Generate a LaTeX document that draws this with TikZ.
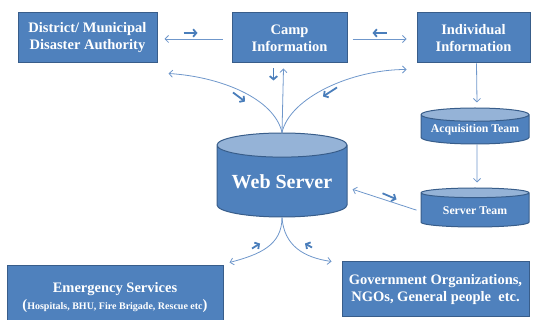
\documentclass[tikz,border=0pt]{standalone}
\usepackage{fontspec}
\setmainfont{Liberation Serif}
\usetikzlibrary{arrows.meta,calc,shapes.geometric}

\definecolor{boxblue}{HTML}{4F81BD}
\definecolor{boxedge}{HTML}{385D8A}
\definecolor{lidblue}{HTML}{95B3D7}
\definecolor{linkblue}{HTML}{6F97CB}
\definecolor{cueblue}{HTML}{4A7EBB}

\tikzset{
  infobox/.style={draw=boxedge, line width=1pt, fill=boxblue, text=white,
    font=\fontsize{14.5}{17}\selectfont\bfseries, align=center, inner sep=0pt},
  store/.style={cylinder, shape border rotate=90, draw=boxedge, line width=1pt,
    cylinder uses custom fill, cylinder body fill=boxblue, cylinder end fill=lidblue,
    text=white, inner sep=0pt, anchor=shape center},
  link/.style={draw=linkblue, line width=0.8pt, -{Straight Barb[length=3.5pt,width=7pt]}},
  cue/.style={draw=cueblue, line width=1.8pt, -{Straight Barb[length=3.2pt,width=7.5pt]}},
}

\begin{document}
\begin{tikzpicture}[x=1pt,y=-1pt]
\useasboundingbox (0,0) rectangle (533,320);
% top row
\node[infobox, minimum width=139pt, minimum height=50pt] (district) at (87.5,38) {District/ Municipal\\Disaster Authority};
\node[infobox, minimum width=115pt, minimum height=50pt] (camp) at (289.5,38) {Camp\\Information};
\node[infobox, minimum width=113pt, minimum height=50pt] (indiv) at (473.5,38) {Individual\\Information};
% servers
\node[store, minimum width=130pt, minimum height=84pt, aspect=0.24,
  font=\fontsize{20}{24}\selectfont\bfseries] (web) at (282,175) {Web Server};
\node[store, minimum width=108pt, minimum height=36pt, aspect=0.15,
  font=\fontsize{11.8}{14}\selectfont\bfseries] (acq) at (475,126) {Acquisition Team};
\node[store, minimum width=108pt, minimum height=39pt, aspect=0.15,
  font=\fontsize{11.8}{14}\selectfont\bfseries] (srvteam) at (475,207.5) {Server Team};
% bottom row
\node[infobox, minimum width=216pt, minimum height=64pt] (emerg) at (115,298)
  {Emergency Services\\(\fontsize{10}{12}\selectfont Hospitals, BHU, Fire Brigade, Rescue etc\fontsize{14.5}{17}\selectfont)};
\node[infobox, minimum width=187pt, minimum height=55pt] (gov) at (435.5,289.5)
  {Government Organizations,\\NGOs, General people\ \ etc.};

% district <-> camp
\draw[link] ($(camp.west)+(-9,1)$) -- ($(district.east)+(7,1)$);
\draw[cue] ($(district.east)+(26,-5)$) -- ($(district.east)+(40,-5)$);
% camp <-> individual
\draw[link] ($(camp.east)+(5,1)$) -- ($(indiv.west)+(-10,1)$);
\draw[cue] ($(indiv.west)+(-30,-5)$) -- ($(indiv.west)+(-44,-5)$);
% camp <-> web server
\draw[link] (web.north) -- ($(camp.south)+(-6,5)$);
\draw[cue] ($(camp.south)+(-16,5)$) -- ($(camp.south)+(-16,17)$);
% web server <-> district, individual
\draw[link] (web.north) .. controls +(-8,-35) and +(50,3) .. ($(district.south east)+(11,10)$);
\draw[cue] ($(web.north)+(-49,-40)$) -- ($(web.north)+(-37,-31)$);
\draw[link] (web.north) .. controls +(8,-35) and +(-55,0) .. ($(indiv.south west)+(-10,6)$);
\draw[cue] ($(web.north)+(55,-45)$) -- ($(web.north)+(41,-36)$);
% teams
\draw[link] ($(indiv.south)+(3,0)$) -- ($(acq.north)+(2,-5)$);
\draw[link] ($(acq.south)+(2,0)$) -- ($(srvteam.north)+(2,-5)$);
\draw[link] ($(srvteam.west)+(-4,0)$) -- ($(web.east)+(5,8)$);
\draw[cue] ($(web.east)+(35,12)$) -- ($(web.east)+(49,18)$);
% web server -> emergency, government
\draw[link] (web.south) .. controls +(0,28) and +(30,-8) .. ($(emerg.north east)+(6,-3)$);
\draw[cue] ($(web.south)+(-30,31)$) -- ($(web.south)+(-22,26)$);
\draw[link] (web.south) .. controls +(2,28) and +(-28,-4) .. ($(gov.north west)+(-10,0)$);
\draw[cue] ($(web.south)+(30,30)$) -- ($(web.south)+(23,26)$);
\end{tikzpicture}
\end{document}
